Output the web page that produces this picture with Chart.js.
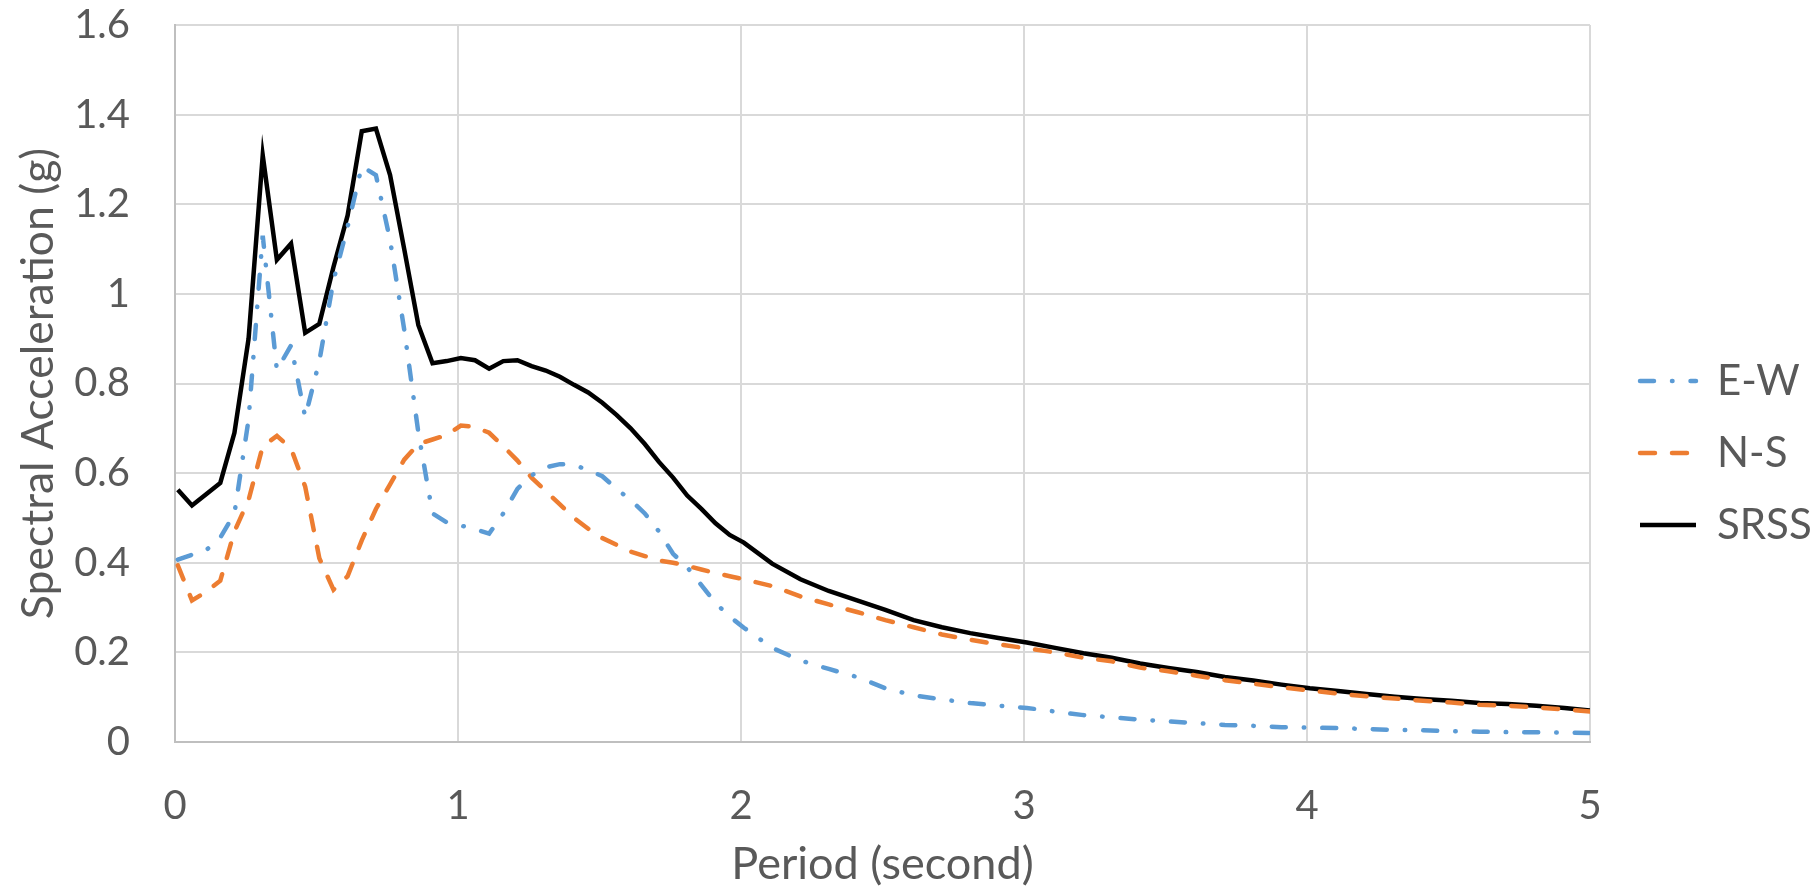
<!DOCTYPE html>
<html lang="en">
<head>
    <meta charset="UTF-8">
    <title>Response spectra</title>
    <script src="https://cdn.jsdelivr.net/npm/chart.js@4.4.1/dist/chart.umd.min.js"></script>
    <style>
        body { margin: 0; background: #ffffff; }
        #spectra { display: block; }
    </style>
</head>
<body>
<canvas id="spectra" width="1819" height="894"></canvas>
<script>
    // periods (s)
    periods = [0.01, 0.06, 0.11, 0.16, 0.21, 0.26, 0.31, 0.36, 0.41, 0.46, 0.51, 0.56, 0.61, 0.66, 0.71, 0.76, 0.81, 0.86, 0.91, 0.96,
        1.01, 1.06, 1.11, 1.16, 1.21, 1.26, 1.31, 1.36, 1.41, 1.46, 1.51, 1.56, 1.61, 1.66, 1.71, 1.76, 1.81, 1.86, 1.91, 1.96,
        2.01, 2.11, 2.21, 2.31, 2.41, 2.51, 2.61, 2.71, 2.81, 2.91, 3.01, 3.11, 3.21, 3.31, 3.41, 3.51, 3.61, 3.71, 3.81, 3.91,
        4.01, 4.11, 4.21, 4.31, 4.41, 4.51, 4.61, 4.71, 4.81, 4.91, 5.0];
    ewValues = [0.407, 0.418, 0.428, 0.456, 0.51, 0.72, 1.13, 0.83, 0.885, 0.725, 0.85, 1.03, 1.15, 1.285, 1.265, 1.12, 0.92, 0.69, 0.51, 0.49,
        0.483, 0.475, 0.465, 0.51, 0.565, 0.595, 0.613, 0.62, 0.618, 0.607, 0.593, 0.565, 0.54, 0.51, 0.47, 0.42, 0.39, 0.35, 0.31, 0.28,
        0.255, 0.21, 0.182, 0.163, 0.145, 0.12, 0.104, 0.095, 0.087, 0.081, 0.076, 0.068, 0.06, 0.055, 0.05, 0.046, 0.042, 0.038, 0.036, 0.033,
        0.032, 0.031, 0.029, 0.027, 0.026, 0.024, 0.023, 0.022, 0.022, 0.021, 0.02];
    nsValues = [0.394, 0.316, 0.335, 0.36, 0.47, 0.54, 0.66, 0.683, 0.655, 0.57, 0.41, 0.34, 0.37, 0.45, 0.52, 0.575, 0.63, 0.665, 0.675, 0.685,
        0.706, 0.703, 0.69, 0.66, 0.628, 0.59, 0.56, 0.53, 0.5, 0.476, 0.455, 0.44, 0.425, 0.415, 0.405, 0.4, 0.393, 0.385, 0.377, 0.37,
        0.363, 0.348, 0.325, 0.307, 0.29, 0.272, 0.256, 0.24, 0.228, 0.218, 0.209, 0.2, 0.188, 0.18, 0.166, 0.158, 0.148, 0.138, 0.13, 0.122,
        0.115, 0.108, 0.102, 0.097, 0.092, 0.088, 0.083, 0.081, 0.077, 0.073, 0.068];
    srssValues = [0.563, 0.528, 0.553, 0.578, 0.69, 0.9, 1.309, 1.076, 1.112, 0.913, 0.933, 1.06, 1.175, 1.363, 1.369, 1.265, 1.1, 0.93, 0.845, 0.85,
        0.857, 0.852, 0.833, 0.85, 0.852, 0.839, 0.829, 0.815, 0.797, 0.78, 0.757, 0.73, 0.7, 0.665, 0.625, 0.59, 0.55, 0.52, 0.488, 0.462,
        0.445, 0.398, 0.363, 0.337, 0.316, 0.295, 0.272, 0.256, 0.243, 0.232, 0.222, 0.21, 0.198, 0.188, 0.175, 0.165, 0.156, 0.145, 0.137, 0.128,
        0.12, 0.114, 0.107, 0.101, 0.096, 0.092, 0.087, 0.085, 0.081, 0.076, 0.07];
    xTicks = [0, 1, 2, 3, 4, 5];
    yTicks = [0, 0.2, 0.4, 0.6, 0.8, 1, 1.2, 1.4, 1.6];

    var textGrey = '#595959';
    var gridGrey = '#d9d9d9';
    var noColour = 'rgba(0,0,0,0)';

    function points(values) {
        return values.map(function (v, i) { return {x: periods[i], y: v}; });
    }

    // legend samples should use the line's own dash and width, not the point style
    function legendLabels(chart) {
        var items = Chart.defaults.plugins.legend.labels.generateLabels(chart);
        items.forEach(function (item) {
            var ds = chart.data.datasets[item.datasetIndex];
            item.lineDash = ds.borderDash || [];
            item.lineWidth = ds.borderWidth;
            item.lineCap = ds.borderCapStyle || 'butt';
            item.strokeStyle = ds.borderColor;
        });
        return items;
    }

    var ctx = document.getElementById('spectra').getContext('2d');
    var chart = new Chart(ctx, {
        type: 'line',
        data: {
            datasets: [{
                label: 'E-W',
                data: points(ewValues),
                borderColor: '#5b9bd5',
                borderWidth: 4.5,
                borderDash: [14, 18, 0.5, 18],
                borderCapStyle: 'round',
                pointRadius: 0,
                fill: false
            }, {
                label: 'N-S',
                data: points(nsValues),
                borderColor: '#ed7d31',
                borderWidth: 4.5,
                borderDash: [15, 17],
                borderCapStyle: 'round',
                pointRadius: 0,
                fill: false
            }, {
                label: 'SRSS',
                data: points(srssValues),
                borderColor: '#000000',
                borderWidth: 4.5,
                pointRadius: 0,
                fill: false
            }]
        },
        options: {
            responsive: false,
            animation: false,
            layout: {padding: {left: 0, top: 25, right: 0, bottom: 0}},
            plugins: {
                tooltip: {enabled: false},
                legend: {
                    position: 'right',
                    align: 'start',
                    maxWidth: 209,
                    // blank title only pushes the entries down
                    title: {display: true, text: ' ', padding: 0, font: {size: 10, lineHeight: '305px'}},
                    labels: {
                        usePointStyle: true,
                        pointStyle: 'line',
                        pointStyleWidth: 56,
                        padding: 30,
                        color: textGrey,
                        font: {family: 'Lato', size: 42},
                        generateLabels: legendLabels
                    }
                }
            },
            scales: {
                x: {
                    type: 'linear',
                    min: 0,
                    max: 5,
                    afterBuildTicks: function (scale) {
                        scale.ticks = xTicks.map(function (v) { return {value: v}; });
                    },
                    afterFit: function (scale) { scale.height = 152; },
                    grid: {color: gridGrey, lineWidth: 2, drawTicks: true, tickLength: 40, tickColor: noColour},
                    border: {color: '#bfbfbf', width: 2},
                    ticks: {
                        padding: 0,
                        color: textGrey,
                        font: {family: 'Lato', size: 40},
                        maxRotation: 0,
                        callback: function (v) { return String(v); }
                    },
                    title: {
                        display: true,
                        text: 'Period (second)',
                        color: textGrey,
                        padding: {top: 0, bottom: 3},
                        font: {family: 'Lato', size: 45}
                    }
                },
                y: {
                    min: 0,
                    max: 1.6,
                    afterBuildTicks: function (scale) {
                        scale.ticks = yTicks.map(function (v) { return {value: v}; });
                    },
                    afterFit: function (scale) { scale.width = 175; },
                    grid: {color: gridGrey, lineWidth: 2, drawTicks: true, tickLength: 45, tickColor: noColour},
                    border: {color: '#bfbfbf', width: 2},
                    ticks: {
                        padding: 0,
                        color: textGrey,
                        font: {family: 'Lato', size: 40},
                        callback: function (v) { return String(v); }
                    },
                    title: {
                        display: true,
                        text: 'Spectral Acceleration (g)',
                        color: textGrey,
                        padding: {top: 12, bottom: 0},
                        font: {family: 'Lato', size: 44.5}
                    }
                },
                // empty strip between the plot and the legend
                gap: {
                    type: 'linear',
                    position: 'right',
                    display: true,
                    grid: {display: false},
                    border: {display: false},
                    ticks: {display: false},
                    afterFit: function (scale) { scale.width = 20; }
                }
            }
        }
    });
</script>
</body>
</html>
